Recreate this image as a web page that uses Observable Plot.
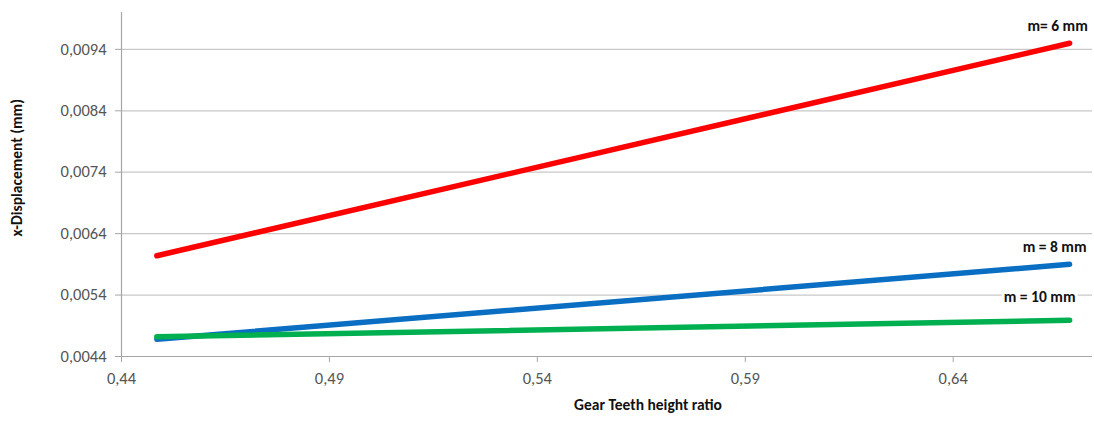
<!DOCTYPE html>
<html>
<head>
<meta charset="utf-8">
<script src="https://cdn.jsdelivr.net/npm/d3@7"></script>
<script src="https://cdn.jsdelivr.net/npm/@observablehq/plot@0.6"></script>
<style>
  html, body { margin: 0; padding: 0; background: #fff; }
  #chart svg { display: block; }
</style>
</head>
<body>
<div id="chart"></div>
<script>
// Data
const ratio = [0.4485, 0.668];
const m6 = [0.00604, 0.00950];
const m8 = [0.00468, 0.00590];
const m10 = [0.00472, 0.00499];
const seriesNames = ["m= 6 mm", "m = 8 mm", "m = 10 mm"];
const seriesColors = ["#ff0000", "#0a6fc2", "#00b050"];
const xTicks = [0.44, 0.49, 0.54, 0.59, 0.64];
const yTicks = [0.0044, 0.0054, 0.0064, 0.0074, 0.0084, 0.0094];

const allSeries = [m6, m8, m10];
const rows = allSeries.flatMap((vals, i) =>
  vals.map((v, j) => ({ series: seriesNames[i], x: ratio[j], y: v }))
);
const ends = allSeries.map((vals, i) => ({ series: seriesNames[i], x: ratio[ratio.length - 1], y: vals[vals.length - 1] }));

const font = "Carlito, 'Open Sans', sans-serif";
const fmtY = d => d.toFixed(4).replace(".", ",");
const fmtX = d => d.toFixed(2).replace(".", ",");

const chart = Plot.plot({
  width: 1094,
  height: 421,
  marginLeft: 121,
  marginRight: 2,
  marginTop: 12,
  marginBottom: 65,
  style: { fontFamily: font, background: "#fff" },
  x: { domain: [0.44, 0.6735], ticks: xTicks, tickFormat: fmtX },
  y: { domain: [0.0044, 0.0100], ticks: yTicks, tickFormat: fmtY },
  color: { domain: seriesNames, range: seriesColors },
  marks: [
    Plot.gridY(yTicks, { stroke: "#c8c8c8", strokeOpacity: 1, strokeWidth: 1.2 }),
    Plot.ruleX([0.44], { stroke: "#a6a6a6", strokeWidth: 1.2 }),
    Plot.ruleY([0.0044], { stroke: "#a6a6a6", strokeWidth: 1.2 }),
    Plot.axisY(yTicks, { tickFormat: fmtY, tickSize: 6, tickPadding: 9, stroke: "#a6a6a6", fill: "#555", fontSize: 16.5, label: null }),
    Plot.axisX(xTicks, { tickFormat: fmtX, tickSize: 6, tickPadding: 10, stroke: "#a6a6a6", fill: "#555", fontSize: 16.5, label: null }),
    Plot.line(rows, { x: "x", y: "y", z: "series", stroke: "series", strokeWidth: 5.5, strokeLinecap: "round" }),
    Plot.text(ends.filter(d => d.series === seriesNames[0]), { x: "x", y: "y", text: "series", dx: -12, dy: -17, fontWeight: "bold", fontSize: 15.5, fill: "#111", stroke: "#fff", strokeWidth: 6 }),
    Plot.text(ends.filter(d => d.series === seriesNames[1]), { x: "x", y: "y", text: "series", dx: -15, dy: -17, fontWeight: "bold", fontSize: 15.5, fill: "#111", stroke: "#fff", strokeWidth: 6 }),
    Plot.text(ends.filter(d => d.series === seriesNames[2]), { x: "x", y: "y", text: "series", dx: -30, dy: -23, fontWeight: "bold", fontSize: 15.5, fill: "#111", stroke: "#fff", strokeWidth: 6 }),
    Plot.text(["x-Displacement (mm)"], { frameAnchor: "left", dx: -104, dy: 52, rotate: -90, fontWeight: "bold", fontSize: 15.5, fill: "#111" }),
    Plot.text(["Gear Teeth height ratio"], { frameAnchor: "bottom", dx: 41, dy: 53, fontWeight: "bold", fontSize: 15.5, fill: "#111" })
  ]
});
document.getElementById("chart").append(chart);
</script>
</body>
</html>
